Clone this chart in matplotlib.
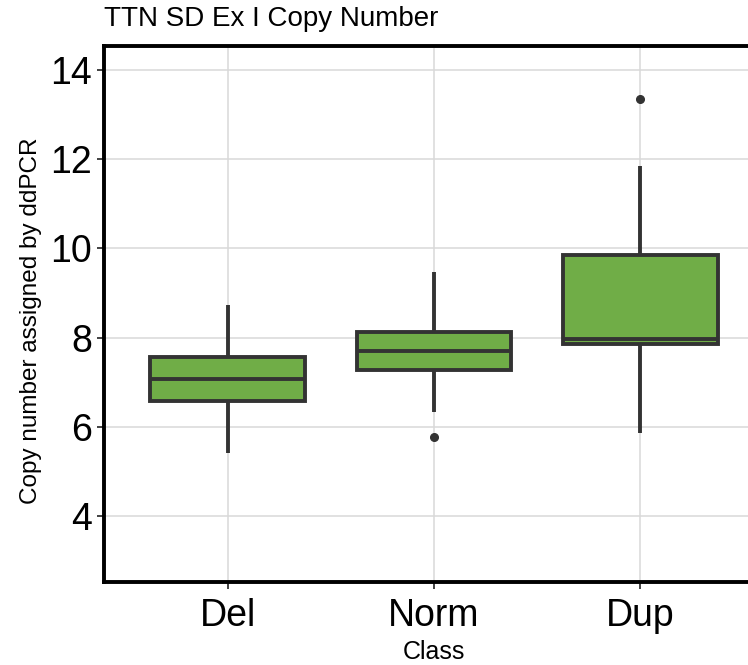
import matplotlib.pyplot as plt
import numpy as np

plt.rcParams['font.family'] = ['Liberation Sans', 'DejaVu Sans']

# Box summary values
classes = ["Del", "Norm", "Dup"]
whisker_low = [5.41, 6.33, 5.86]
q1 = [6.58, 7.27, 7.85]
median = [7.07, 7.70, 7.96]
q3 = [7.56, 8.13, 9.85]
whisker_high = [8.73, 9.47, 11.85]
outliers = [[], [5.77], [13.35]]

box_fill = "#70AD47"
line_col = "#333333"

fig = plt.figure(figsize=(7.48, 6.65), dpi=100)
W, H = 748, 665
# panel runs past the right edge of the picture, as in the reference
ax = fig.add_axes([104 / W, (H - 582) / H, 660 / W, 536 / H])

stats = []
for i, cls in enumerate(classes):
    stats.append({"label": cls, "whislo": whisker_low[i], "q1": q1[i], "med": median[i],
                  "q3": q3[i], "whishi": whisker_high[i], "fliers": outliers[i]})

ax.bxp(stats, positions=np.arange(1, len(classes) + 1), widths=0.75, patch_artist=True,
       showcaps=False,
       boxprops=dict(facecolor=box_fill, edgecolor=line_col, linewidth=2.8),
       medianprops=dict(color=line_col, linewidth=2.8, solid_capstyle="butt"),
       whiskerprops=dict(color=line_col, linewidth=2.8, solid_capstyle="butt"),
       flierprops=dict(marker="o", markerfacecolor=line_col, markeredgecolor=line_col, markersize=5.5),
       zorder=3)

ax.set_xlim(0.4, 3.6)
ax.set_ylim(2.52, 14.54)
ax.set_yticks([4, 6, 8, 10, 12, 14])
ax.set_xticks([1, 2, 3])
ax.set_xticklabels(classes)
ax.grid(True, color="#D9D9D9", linewidth=1.1, zorder=0)
ax.set_axisbelow(True)

for s in ax.spines.values():
    s.set_linewidth(2.8)
    s.set_color("black")

ax.tick_params(axis="both", colors=line_col, length=5, width=1.3, labelcolor="black", labelsize=27)
ax.tick_params(axis="x", pad=6.5)
ax.tick_params(axis="y", pad=3.5)

ax.set_ylabel("Copy number assigned by ddPCR", fontsize=17.5)
ax.yaxis.set_label_coords(-0.094, 0.488)
ax.set_xlabel("Class", fontsize=18)
ax.xaxis.set_label_coords(0.5, -0.108)

fig.text(104 / W, 1 - 19 / H, "TTN SD Ex I Copy Number", fontsize=20, ha="left", va="center")

fig.savefig("out.png", dpi=100)
